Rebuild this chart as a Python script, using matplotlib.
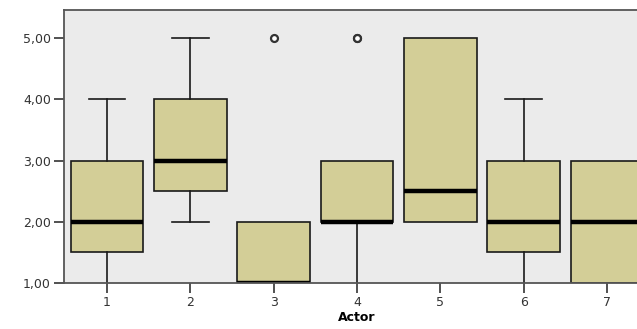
import matplotlib
matplotlib.use("Agg")
import matplotlib.pyplot as plt

# box plot values per actor
actors = ["1", "2", "3", "4", "5", "6", "7"]
whislo = [1.0, 2.0, 1.0, 1.0, 2.0, 1.0, 1.0]
q1 = [1.5, 2.5, 1.0, 2.0, 2.0, 1.5, 1.0]
med = [2.0, 3.0, 1.0, 2.0, 2.5, 2.0, 2.0]
q3 = [3.0, 4.0, 2.0, 3.0, 5.0, 3.0, 3.0]
whishi = [4.0, 5.0, 2.0, 3.0, 5.0, 4.0, 3.0]
fliers = [[], [], [5.0], [5.0, 5.0], [], [], []]
yticks = [1, 2, 3, 4, 5]
ytick_labels = ["1,00", "2,00", "3,00", "4,00", "5,00"]

stats = []
for i in range(len(actors)):
    stats.append(dict(label=actors[i], whislo=whislo[i], q1=q1[i], med=med[i],
                      q3=q3[i], whishi=whishi[i], fliers=fliers[i]))

fig = plt.figure(figsize=(6.37, 3.29), dpi=100)
# axes runs past the right edge of the figure, like the cropped original
ax = fig.add_axes([64 / 637, 46 / 329, 586 / 637, 273 / 329])
ax.set_facecolor("#EBEBEB")

parts = ax.bxp(stats, positions=range(1, len(actors) + 1), widths=0.875, patch_artist=True,
               boxprops=dict(facecolor="#D3CE97", edgecolor="#1a1a1a", linewidth=1.2),
               medianprops=dict(color="black", linewidth=3.2, solid_capstyle="butt"),
               whiskerprops=dict(color="#1a1a1a", linewidth=1.2),
               capprops=dict(color="#1a1a1a", linewidth=1.2),
               capwidths=0.44,
               flierprops=dict(marker="o", markersize=5, markerfacecolor="white",
                               markeredgecolor="#333333", markeredgewidth=1.6))

# no cap when the whisker has zero length (or sits on the axis)
for i in range(len(actors)):
    if whislo[i] == q1[i] or whislo[i] == 1.0:
        parts["caps"][2 * i].set_visible(False)
    if whishi[i] == q3[i]:
        parts["caps"][2 * i + 1].set_visible(False)

ax.set_xlim(0.484, 7.516)
ax.set_ylim(1.0, 5.46)
ax.set_yticks(yticks)
ax.set_yticklabels(ytick_labels)
ax.set_xticks(range(1, len(actors) + 1))
ax.set_xticklabels(actors)

for side in ["left", "bottom", "top"]:
    ax.spines[side].set_color("#555555")
    ax.spines[side].set_linewidth(1.3)
ax.spines["right"].set_visible(False)

ax.tick_params(axis="both", direction="out", length=7.5, width=1.2, color="#333333",
               labelsize=9, labelcolor="#333333", pad=2)
ax.tick_params(axis="x", pad=2)
ax.set_xlabel("Actor", fontsize=9, fontweight="bold", labelpad=1)

fig.savefig("out.png", dpi=100)
